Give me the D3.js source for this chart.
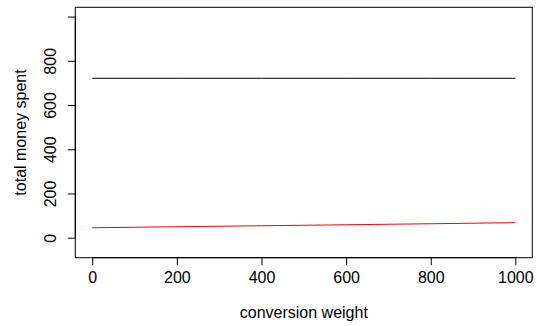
<!DOCTYPE html>
<html><head><meta charset="utf-8">
<script src="https://cdn.jsdelivr.net/npm/d3@7"></script>
<style>html,body{margin:0;padding:0;background:#fff;}svg{display:block;}</style>
</head><body>
<script>
const xTicks = [0, 200, 400, 600, 800, 1000];
const yTicks = [0, 200, 400, 600, 800, 1000];
const yTickLabels = ["0", "200", "400", "600", "800", ""];
const weights = [0, 200, 400, 600, 800, 1000];
const blackSeries = [721, 721, 721, 721, 721, 721];
const redSeries = [45, 49.5, 54, 58.5, 63, 68];

const W = 537, H = 326;
const box = {left: 75.3, right: 532.3, top: 7.3, bottom: 257.7};
const svg = d3.select("body").append("svg").attr("width", W).attr("height", H);
const font = "'Liberation Sans', Arial, sans-serif";

const x = d3.scaleLinear().domain([-40, 1040]).range([box.left, box.right]);
const y = d3.scaleLinear().domain([-90.5, 1042]).range([box.bottom, box.top]);

const line = d3.line().x((d, i) => x(weights[i])).y(d => y(d));
svg.append("path").datum(blackSeries).attr("d", line)
  .attr("fill", "none").attr("stroke", "#000").attr("stroke-width", 1);
svg.append("path").datum(redSeries).attr("d", line)
  .attr("fill", "none").attr("stroke", "#ff0000").attr("stroke-width", 1);

svg.append("rect").attr("x", box.left).attr("y", box.top)
  .attr("width", box.right - box.left).attr("height", box.bottom - box.top)
  .attr("fill", "none").attr("stroke", "#000").attr("stroke-width", 1);

const xAxis = svg.append("g").attr("transform", `translate(0,${box.bottom})`)
  .call(d3.axisBottom(x).tickValues(xTicks).tickSize(7.5).tickPadding(6).tickFormat(d3.format("d")).tickSizeOuter(0));
xAxis.select(".domain").attr("d", `M${x(0)},0H${x(1000)}`);
xAxis.selectAll("text").attr("font-family", font).attr("font-size", 16).attr("fill", "#000");

const yAxis = svg.append("g").attr("transform", `translate(${box.left},0)`)
  .call(d3.axisLeft(y).tickValues(yTicks).tickSize(7.5).tickPadding(6).tickFormat((d, i) => yTickLabels[i]).tickSizeOuter(0));
yAxis.select(".domain").attr("d", `M0,${y(0)}V${y(1000)}`);
yAxis.selectAll("text").attr("font-family", font).attr("font-size", 16).attr("fill", "#000")
  .attr("x", 0).attr("dy", "0.35em").attr("text-anchor", "middle")
  .attr("transform", "translate(-25,0) rotate(-90)");
svg.selectAll(".tick line").attr("stroke", "#000");

svg.append("text").attr("x", (box.left + box.right) / 2).attr("y", 318)
  .attr("text-anchor", "middle").attr("font-family", font).attr("font-size", 16)
  .text("conversion weight");
svg.append("text").attr("transform", `translate(26,${(box.top + box.bottom) / 2}) rotate(-90)`)
  .attr("text-anchor", "middle").attr("font-family", font).attr("font-size", 16)
  .text("total money spent");
</script>
</body></html>
